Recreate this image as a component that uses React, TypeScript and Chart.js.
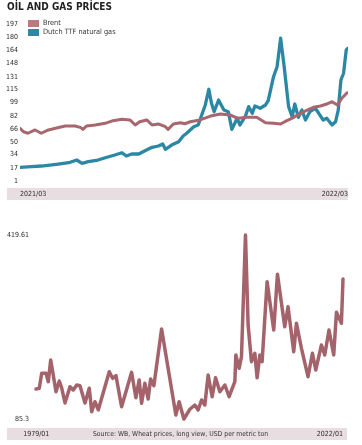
import React, { useEffect, useRef } from "react";
import { Chart, registerables } from "chart.js";

Chart.register(...registerables);

const FONT = '"Liberation Sans Narrow", "DejaVu Sans Condensed", "Roboto Condensed", sans-serif';

const OIL_TITLE = "OİL AND GAS PRİCES";
const OIL_X_LABELS = ["2021/03", "2022/03"];
const OIL_X_RANGE = [0, 370];
const OIL_Y_TICKS = [1, 17, 34, 50, 66, 82, 99, 115, 131, 148, 164, 180, 197];

const BRENT_LABEL = "Brent";
const BRENT_DAYS = [0, 4, 9, 17, 24, 32, 40, 51, 62, 68, 71, 75, 85, 96, 105, 115, 124, 130, 135, 143, 149, 156, 164, 167, 173, 181, 186, 192, 203, 215, 226, 237, 246, 256, 267, 277, 286, 294, 301, 309, 316, 324, 331, 339, 346, 352, 358, 363, 369];
const BRENT_VALUES = [66.8, 62.5, 60.6, 64.7, 60.6, 64.7, 66.8, 69.7, 69.7, 68.0, 65.5, 69.7, 70.9, 73.0, 76.3, 78.0, 77.2, 70.9, 75.0, 77.2, 70.9, 72.2, 68.8, 65.5, 72.2, 73.8, 72.5, 75.0, 77.2, 82.1, 84.6, 83.4, 79.3, 80.5, 80.5, 73.8, 73.0, 72.2, 76.3, 80.5, 85.5, 89.6, 93.0, 94.6, 97.1, 100.0, 95.9, 104.2, 111.2];

const TTF_LABEL = "Dutch TTF natural gas";
const TTF_DAYS = [0, 13, 24, 36, 43, 55, 64, 70, 77, 88, 98, 107, 115, 120, 126, 134, 141, 149, 156, 161, 164, 171, 179, 184, 188, 196, 201, 205, 209, 213, 216, 219, 224, 230, 235, 239, 245, 248, 254, 258, 262, 265, 271, 277, 280, 286, 290, 294, 298, 303, 307, 310, 314, 318, 322, 327, 333, 337, 342, 346, 352, 356, 359, 362, 365, 368, 370];
const TTF_VALUES = [18.1, 18.9, 19.7, 21.0, 22.2, 23.8, 27.2, 23.1, 25.1, 27.2, 30.6, 33.5, 36.3, 32.2, 34.7, 34.7, 38.8, 43.1, 44.7, 47.2, 40.6, 45.9, 50.1, 57.2, 60.6, 68.8, 70.9, 83.4, 95.9, 115.5, 98.0, 87.5, 102.1, 89.6, 87.5, 65.5, 79.3, 70.9, 81.3, 93.8, 85.5, 94.6, 91.8, 95.9, 101.3, 131.2, 143.7, 179.2, 143.7, 93.8, 81.3, 97.1, 80.5, 89.6, 77.2, 87.5, 91.8, 85.5, 77.2, 79.3, 70.9, 75.0, 89.6, 127.1, 135.5, 164.5, 166.7];

const WHEAT_LABEL = "Wheat";
const WHEAT_X_LABELS = ["1979/01", "2022/01"];
const WHEAT_X_RANGE = [1979, 2022];
const WHEAT_Y_TICKS = [85.3, 419.61];
const WHEAT_YEARS = [1979.0, 1979.46, 1979.8, 1980.4, 1980.72, 1981.06, 1981.34, 1981.8, 1982.26, 1982.6, 1983.06, 1983.76, 1984.22, 1984.7, 1985.16, 1985.86, 1986.46, 1986.8, 1987.26, 1987.72, 1989.26, 1989.73, 1990.2, 1990.99, 1992.39, 1992.99, 1993.45, 1993.79, 1994.25, 1994.71, 1995.05, 1995.51, 1996.59, 1998.59, 1999.05, 1999.71, 2000.55, 2001.25, 2001.71, 2002.19, 2002.65, 2003.11, 2003.67, 2004.15, 2004.75, 2005.45, 2006.05, 2006.85, 2006.99, 2007.45, 2007.78, 2008.34, 2008.71, 2009.18, 2009.65, 2009.97, 2010.35, 2010.67, 2011.37, 2012.3, 2012.82, 2013.84, 2014.3, 2015.1, 2015.48, 2016.18, 2017.1, 2017.72, 2018.18, 2018.98, 2019.44, 2020.04, 2020.7, 2021.08, 2021.78, 2022.0];
const WHEAT_VALUES = [139.8, 141.1, 168.3, 168.3, 153.1, 192.5, 171.2, 134.9, 154.3, 141.6, 114.4, 144.0, 138.0, 147.1, 145.8, 114.4, 141.1, 98.6, 116.7, 101.7, 171.2, 159.2, 164.0, 107.6, 170.1, 124.0, 156.2, 113.9, 150.2, 121.6, 158.0, 145.8, 248.8, 92.6, 116.7, 85.3, 103.0, 110.7, 101.7, 119.8, 110.7, 165.2, 125.8, 160.3, 134.9, 147.1, 125.8, 153.1, 201.6, 177.4, 198.5, 419.61, 256.1, 189.4, 204.7, 160.3, 201.6, 189.4, 334.8, 247.0, 348.2, 253.0, 289.3, 207.6, 259.2, 213.8, 162.2, 204.7, 174.3, 219.8, 201.6, 247.0, 201.6, 279.2, 259.2, 339.7];

const SOURCE_TEXT = "Source: WB, Wheat prices, long view, USD per metric ton";

const BRENT_COLOR = "#a8666f";
const BRENT_LEGEND = "#b97a82";
const TTF_COLOR = "#2a88a5";
const WHEAT_COLOR = "#a4636b";
const BAND_COLOR = "#e8dee1";
const TEXT_COLOR = "#2b2b2b";

// label placement tweak (in axis units) for the first wheat date label
const WHEAT_FIRST_LABEL_SHIFT = -1.8;

const bandPlugin = {
  id: "band",
  beforeDraw(chart: any, _args: any, opts: any) {
    const ctx = chart.ctx;
    ctx.save();
    ctx.fillStyle = opts.color;
    ctx.fillRect(opts.left, opts.top, opts.width, opts.height);
    ctx.restore();
  },
};

function pts(xs: number[], ys: number[]) {
  return xs.map((x, i) => ({ x, y: ys[i] }));
}

const noGrid = { display: false, drawTicks: false };

export default function App() {
  const oilRef = useRef<HTMLCanvasElement>(null);
  const wheatRef = useRef<HTMLCanvasElement>(null);

  useEffect(() => {
    const tickFont = { family: FONT, size: 7 };
    const oil = new Chart(oilRef.current!, {
      type: "line",
      data: {
        datasets: [
          {
            label: BRENT_LABEL,
            data: pts(BRENT_DAYS, BRENT_VALUES),
            borderColor: BRENT_COLOR,
            backgroundColor: BRENT_LEGEND,
            borderWidth: 3,
            pointRadius: 0,
            borderJoinStyle: "round",
            borderCapStyle: "round",
          },
          {
            label: TTF_LABEL,
            data: pts(TTF_DAYS, TTF_VALUES),
            borderColor: TTF_COLOR,
            backgroundColor: TTF_COLOR,
            borderWidth: 3.3,
            pointRadius: 0,
            borderJoinStyle: "round",
            borderCapStyle: "round",
          },
        ],
      },
      options: {
        responsive: false,
        animation: false,
        layout: { padding: { left: 0, top: 24, right: 14, bottom: 0 } },
        plugins: {
          legend: { display: false },
          tooltip: { enabled: false },
          band: { color: BAND_COLOR, left: 7, top: 188, width: 341, height: 12 },
        } as any,
        scales: {
          x: {
            type: "linear",
            min: OIL_X_RANGE[0],
            max: OIL_X_RANGE[1],
            grid: noGrid,
            border: { display: false },
            afterFit: (s: any) => { s.height = 24; },
            afterBuildTicks: (s: any) => { s.ticks = OIL_X_RANGE.map((v) => ({ value: v })); },
            ticks: {
              autoSkip: false,
              maxRotation: 0,
              align: "inner",
              padding: 9,
              color: TEXT_COLOR,
              font: tickFont,
              callback: (_v: any, i: number) => OIL_X_LABELS[i],
            },
          },
          y: {
            type: "linear",
            min: OIL_Y_TICKS[0],
            max: OIL_Y_TICKS[OIL_Y_TICKS.length - 1],
            grid: noGrid,
            border: { display: false },
            afterFit: (s: any) => { s.width = 20; },
            afterBuildTicks: (s: any) => { s.ticks = OIL_Y_TICKS.map((v) => ({ value: v })); },
            ticks: {
              padding: 2,
              color: TEXT_COLOR,
              font: tickFont,
              callback: (v: any) => String(v),
            },
          },
        },
      } as any,
      plugins: [bandPlugin],
    });

    const wheat = new Chart(wheatRef.current!, {
      type: "line",
      data: {
        datasets: [
          {
            label: WHEAT_LABEL,
            data: pts(WHEAT_YEARS, WHEAT_VALUES),
            borderColor: WHEAT_COLOR,
            borderWidth: 3.5,
            pointRadius: 0,
            borderJoinStyle: "round",
            borderCapStyle: "round",
            clip: false,
          } as any,
        ],
      },
      options: {
        responsive: false,
        animation: false,
        layout: { padding: { left: 0, top: 30, right: 19, bottom: 0 } },
        plugins: {
          legend: { display: false },
          tooltip: { enabled: false },
          band: { color: BAND_COLOR, left: 7, top: 223, width: 340, height: 12 },
        } as any,
        scales: {
          x: {
            type: "linear",
            min: WHEAT_X_RANGE[0],
            max: WHEAT_X_RANGE[1],
            grid: noGrid,
            border: { display: false },
            afterFit: (s: any) => { s.height = 26; },
            afterBuildTicks: (s: any) => {
              s.ticks = [
                { value: WHEAT_X_RANGE[0] + WHEAT_FIRST_LABEL_SHIFT },
                { value: WHEAT_X_RANGE[1] },
              ];
            },
            ticks: {
              autoSkip: false,
              maxRotation: 0,
              align: "inner",
              padding: 11,
              color: TEXT_COLOR,
              font: tickFont,
              callback: (_v: any, i: number) => WHEAT_X_LABELS[i],
            },
          },
          y: {
            type: "linear",
            min: WHEAT_Y_TICKS[0],
            max: WHEAT_Y_TICKS[1],
            grid: noGrid,
            border: { display: false },
            afterFit: (s: any) => { s.width = 36; },
            afterBuildTicks: (s: any) => { s.ticks = WHEAT_Y_TICKS.map((v) => ({ value: v })); },
            ticks: {
              padding: 7,
              color: TEXT_COLOR,
              font: tickFont,
              callback: (v: any) => String(v),
            },
          },
        },
      } as any,
      plugins: [bandPlugin],
    });

    return () => {
      oil.destroy();
      wheat.destroy();
    };
  }, []);

  const legendItems = [
    { label: BRENT_LABEL, color: BRENT_LEGEND },
    { label: TTF_LABEL, color: TTF_COLOR },
  ];

  return (
    <div style={{ position: "absolute", left: 0, top: 0, width: 362, height: 445, background: "#fff", overflow: "hidden", fontFamily: FONT }}>
      <canvas ref={oilRef} width={362} height={205} style={{ position: "absolute", left: 0, top: 0, width: 362, height: 205 }} />
      <canvas ref={wheatRef} width={362} height={240} style={{ position: "absolute", left: 0, top: 205, width: 362, height: 240 }} />
      <div style={{ position: "absolute", left: 7, top: 1, fontSize: 10, fontWeight: 700, color: "#222", lineHeight: "11px", whiteSpace: "nowrap" }}>
        {OIL_TITLE}
      </div>
      {legendItems.map((it, i) => (
        <div key={it.label} style={{ position: "absolute", left: 28, top: 19 + i * 9, height: 8, display: "flex", alignItems: "center", whiteSpace: "nowrap" }}>
          <span style={{ display: "inline-block", width: 11, height: 7, background: it.color, marginRight: 4 }} />
          <span style={{ fontSize: 7.3, color: "#333", lineHeight: "8px" }}>{it.label}</span>
        </div>
      ))}
      <div style={{ position: "absolute", left: 0, top: 428, width: 361, height: 12, lineHeight: "12px", textAlign: "center", fontSize: 6.8, color: "#333", whiteSpace: "nowrap" }}>
        {SOURCE_TEXT}
      </div>
    </div>
  );
}
